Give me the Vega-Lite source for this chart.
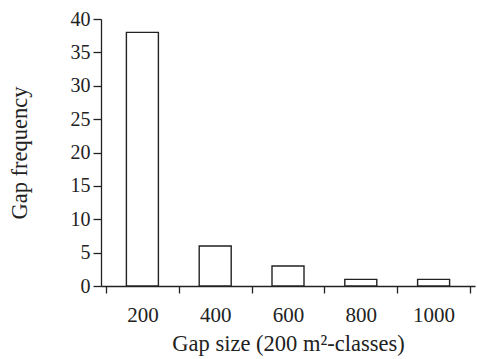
{
  "$schema": "https://vega.github.io/schema/vega-lite/v6.json",
  "width": 374,
  "height": 267,
  "autosize": {"type": "none"},
  "padding": {"left": 101, "top": 19, "right": 2, "bottom": 73},
  "background": "white",
  "config": {
    "view": {"stroke": null},
    "font": "Liberation Serif",
    "axis": {
      "labelFont": "Liberation Serif",
      "titleFont": "Liberation Serif",
      "labelFontSize": 20.5,
      "titleFontSize": 22.5,
      "titleFontWeight": "normal",
      "labelColor": "#222",
      "titleColor": "#222",
      "domainColor": "#222",
      "tickColor": "#222",
      "domainWidth": 1.3,
      "tickWidth": 1.3,
      "grid": false
    }
  },
  "data": {
    "values": [
      {"size": 200, "frequency": 38},
      {"size": 400, "frequency": 6},
      {"size": 600, "frequency": 3},
      {"size": 800, "frequency": 1},
      {"size": 1000, "frequency": 1}
    ]
  },
  "layer": [
    {
      "mark": {"type": "bar", "size": 32, "fill": "white", "stroke": "#222", "strokeWidth": 1.4},
      "encoding": {
        "x": {
          "field": "size",
          "type": "quantitative",
          "scale": {"domain": [100, 1100], "nice": false, "zero": false},
          "axis": {
            "orient": "bottom",
            "values": [100, 300, 500, 700, 900, 1100],
            "labels": false,
            "title": null,
            "tickSize": 7
          }
        },
        "y": {
          "field": "frequency",
          "type": "quantitative",
          "scale": {"domain": [0, 40], "nice": false},
          "axis": {
            "values": [0, 5, 10, 15, 20, 25, 30, 35, 40],
            "tickSize": 8,
            "labelPadding": 3,
            "labelFontSize": 20,
            "title": "Gap frequency",
            "titlePadding": 39
          }
        }
      }
    },
    {
      "mark": {"type": "point", "opacity": 0},
      "encoding": {
        "x": {
          "field": "size",
          "type": "quantitative",
          "axis": {
            "orient": "bottom",
            "values": [200, 400, 600, 800, 1000],
            "format": "d",
            "ticks": false,
            "domain": false,
            "labelPadding": 18,
            "labelFontSize": 21,
            "title": "Gap size (200 m²-classes)",
            "titlePadding": 7
          }
        },
        "y": {
          "field": "frequency",
          "type": "quantitative",
          "axis": {
            "values": [0, 5, 10, 15, 20, 25, 30, 35, 40],
            "tickSize": 8,
            "labelPadding": 3,
            "labelFontSize": 20,
            "title": "Gap frequency",
            "titlePadding": 39
          }
        }
      }
    }
  ],
  "resolve": {"axis": {"x": "independent"}}
}
